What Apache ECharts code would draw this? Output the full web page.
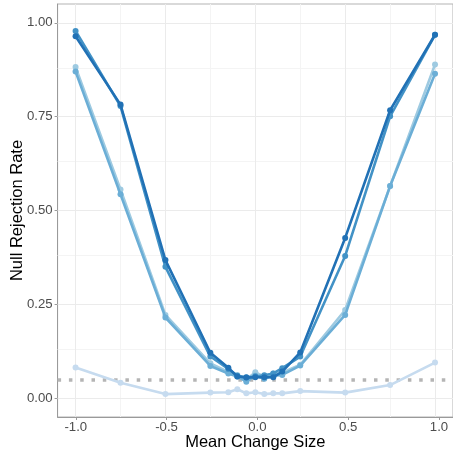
<!DOCTYPE html>
<html>
<head>
<meta charset="utf-8">
<script src="https://cdn.jsdelivr.net/npm/echarts@6/dist/echarts.min.js"></script>
<style>
  html, body { margin: 0; padding: 0; background: #ffffff; }
  #chart { width: 453px; height: 456px; }
</style>
</head>
<body>
<div id="chart"></div>
<script>
// Mean change sizes tested
const changeSizes = [-1, -0.75, -0.5, -0.25, -0.15, -0.1, -0.05, 0, 0.05, 0.1, 0.15, 0.25, 0.5, 0.75, 1];

// Null rejection rate for each setting (one array per line)
const rateA = [0.964, 0.782, 0.368, 0.121, 0.081, 0.058, 0.055, 0.056, 0.056, 0.056, 0.071, 0.122, 0.427, 0.767, 0.968];
const rateB = [0.978, 0.778, 0.350, 0.111, 0.078, 0.060, 0.056, 0.058, 0.061, 0.066, 0.080, 0.111, 0.379, 0.751, 0.968];
const rateC = [0.870, 0.543, 0.215, 0.086, 0.066, 0.058, 0.044, 0.060, 0.052, 0.060, 0.062, 0.087, 0.222, 0.565, 0.864];
const rateD = [0.882, 0.556, 0.222, 0.093, 0.070, 0.062, 0.050, 0.069, 0.058, 0.066, 0.068, 0.089, 0.235, 0.565, 0.889];
const rateE = [0.082, 0.041, 0.011, 0.015, 0.016, 0.024, 0.013, 0.016, 0.011, 0.013, 0.013, 0.019, 0.015, 0.035, 0.095];

const lineColors = ['#2171b5', '#4292c6', '#6baed6', '#9ecae1', '#c6dbef'];

// Axis ticks and grid lines
const xMajorTicks = [-1, -0.5, 0, 0.5, 1];
const xMinorTicks = [-0.75, -0.25, 0.25, 0.75];
const yMajorTicks = [0, 0.25, 0.5, 0.75, 1];
const yMinorTicks = [0.125, 0.375, 0.625, 0.875];
const nominalLevel = 0.05;

// Panel extent (data range padded like the plotting default)
const xRange = [-1.1, 1.1];
const yRange = [-0.05, 1.05];

const FONT = "'Liberation Sans', Arial, sans-serif";
const panel = { left: 57.6, top: 4, width: 399.6, height: 413 };

// Inner grid holds the labelled axes; it spans exactly the tick range
const xSpan = xRange[1] - xRange[0];
const ySpan = yRange[1] - yRange[0];
const inner = {
  left: panel.left + (xMajorTicks[0] - xRange[0]) / xSpan * panel.width,
  width: (xMajorTicks[xMajorTicks.length - 1] - xMajorTicks[0]) / xSpan * panel.width,
  top: panel.top + (yRange[1] - yMajorTicks[yMajorTicks.length - 1]) / ySpan * panel.height,
  height: (yMajorTicks[yMajorTicks.length - 1] - yMajorTicks[0]) / ySpan * panel.height
};
const xOffset = (panel.top + panel.height) - (inner.top + inner.height);
const yOffset = inner.left - panel.left;

const pair = (ys) => changeSizes.map((x, i) => [x, ys[i]]);

const gridLines = [];
xMinorTicks.forEach(v => gridLines.push({ xAxis: v, lineStyle: { color: '#f4f4f4', width: 1, type: 'solid' } }));
yMinorTicks.forEach(v => gridLines.push({ yAxis: v, lineStyle: { color: '#f4f4f4', width: 1, type: 'solid' } }));
xMajorTicks.forEach(v => gridLines.push({ xAxis: v, lineStyle: { color: '#ebebeb', width: 1, type: 'solid' } }));
yMajorTicks.forEach(v => gridLines.push({ yAxis: v, lineStyle: { color: '#ebebeb', width: 1, type: 'solid' } }));
gridLines.push({ yAxis: nominalLevel, lineStyle: { color: '#b5b5b5', width: 3.5, type: [3.5, 7.8], cap: 'butt' } });

const rateSeries = [rateE, rateD, rateC, rateB, rateA];
const rateColors = [lineColors[4], lineColors[3], lineColors[2], lineColors[1], lineColors[0]];

const series = [{
  type: 'line',
  xAxisIndex: 0,
  yAxisIndex: 0,
  data: [],
  z: 1,
  silent: true,
  markLine: {
    silent: true,
    symbol: ['none', 'none'],
    label: { show: false },
    z: 1,
    animation: false,
    data: gridLines
  }
}];
rateSeries.forEach((ys, i) => {
  series.push({
    type: 'line',
    xAxisIndex: 0,
    yAxisIndex: 0,
    data: pair(ys),
    z: 10 + i,
    symbol: 'circle',
    symbolSize: 6,
    showSymbol: true,
    lineStyle: { color: rateColors[i], width: 2.6 },
    itemStyle: { color: rateColors[i] },
    emphasis: { disabled: true }
  });
});

const chart = echarts.init(document.getElementById('chart'), null, { renderer: 'canvas' });
chart.setOption({
  animation: false,
  backgroundColor: '#ffffff',
  textStyle: { fontFamily: FONT },
  grid: [
    { left: panel.left, top: panel.top, width: panel.width, height: panel.height,
      show: true, borderColor: '#b3b3b3', borderWidth: 1, backgroundColor: 'transparent', containLabel: false },
    { left: inner.left, top: inner.top, width: inner.width, height: inner.height, show: false, containLabel: false }
  ],
  xAxis: [
    {
      type: 'value', gridIndex: 0, min: xRange[0], max: xRange[1],
      axisLine: { show: true, onZero: false, lineStyle: { color: '#9a9a9a', width: 1 } },
      axisTick: { show: false }, axisLabel: { show: false }, splitLine: { show: false },
      name: 'Mean Change Size', nameLocation: 'middle', nameGap: 17,
      nameTextStyle: { fontSize: 16.5, color: '#000000', fontFamily: FONT }
    },
    {
      type: 'value', gridIndex: 1, min: xMajorTicks[0], max: xMajorTicks[xMajorTicks.length - 1],
      interval: 0.5, offset: xOffset,
      axisLine: { show: false, onZero: false },
      axisTick: { show: true, length: 3, lineStyle: { color: '#9a9a9a', width: 1 } },
      axisLabel: { show: true, margin: 4, fontSize: 13.2, color: '#4d4d4d', fontFamily: FONT,
                   formatter: v => v.toFixed(1) },
      splitLine: { show: false }
    }
  ],
  yAxis: [
    {
      type: 'value', gridIndex: 0, min: yRange[0], max: yRange[1],
      axisLine: { show: true, onZero: false, lineStyle: { color: '#9a9a9a', width: 1 } },
      axisTick: { show: false }, axisLabel: { show: false }, splitLine: { show: false },
      name: 'Null Rejection Rate', nameLocation: 'middle', nameGap: 32,
      nameTextStyle: { fontSize: 16.5, color: '#000000', fontFamily: FONT }
    },
    {
      type: 'value', gridIndex: 1, min: yMajorTicks[0], max: yMajorTicks[yMajorTicks.length - 1],
      interval: 0.25, offset: yOffset,
      axisLine: { show: false, onZero: false },
      axisTick: { show: true, length: 3, lineStyle: { color: '#9a9a9a', width: 1 } },
      axisLabel: { show: true, margin: 5, fontSize: 13.2, color: '#4d4d4d', fontFamily: FONT,
                   formatter: v => v.toFixed(2) },
      splitLine: { show: false }
    }
  ],
  series: series
});
</script>
</body>
</html>
